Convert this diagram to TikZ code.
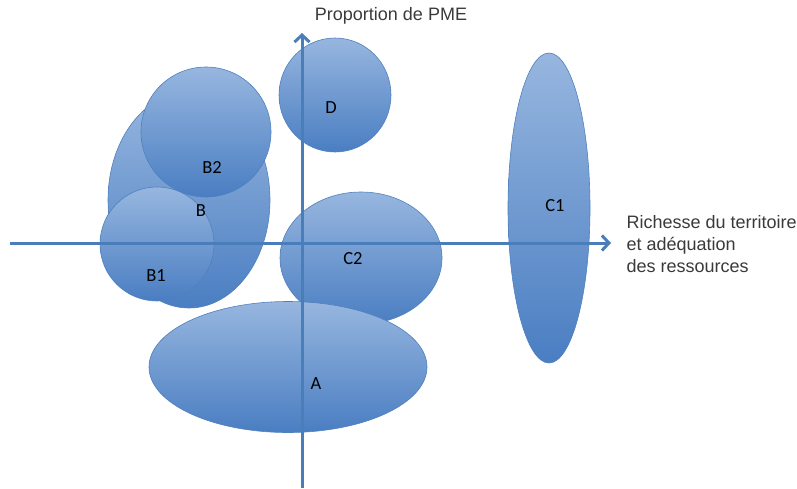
\documentclass[tikz,border=0pt]{standalone}
\usepackage{fontspec}
\setmainfont{Liberation Sans}
\newfontfamily\labelfont{Carlito}
\usetikzlibrary{shapes.geometric, arrows.meta}
\definecolor{axisblue}{HTML}{4A7EBB}
\definecolor{edgeblue}{HTML}{4F81BD}
\definecolor{topblue}{HTML}{97B6DF}
\definecolor{botblue}{HTML}{4A7EC2}
\definecolor{textgray}{HTML}{3A3A3A}
\tikzset{
  blob/.style={ellipse, draw=edgeblue, line width=0.6pt, top color=topblue, bottom color=botblue, inner sep=0pt},
  tag/.style={font=\labelfont\fontsize{18.5}{21}\selectfont, text=black},
  axis/.style={draw=axisblue, line width=3pt, -{Straight Barb[length=7pt, width=15pt]}},
  axistext/.style={font=\fontsize{18}{21}\selectfont, text=textgray}
}

\begin{document}
\begin{tikzpicture}[x=1pt, y=-1pt]
\useasboundingbox (0,0) rectangle (797,488);
% zones
\node[blob, minimum width=162pt, minimum height=216pt] (B) at (189,200) {};
\node[blob, minimum width=130pt, minimum height=130pt] (B2) at (206,132) {};
\node[blob, minimum width=114pt, minimum height=114pt] (B1) at (157,244) {};
\node[blob, minimum width=112pt, minimum height=114pt] (D) at (335,95) {};
\node[blob, minimum width=162pt, minimum height=132pt] (C2) at (361,258) {};
\node[blob, minimum width=278pt, minimum height=131pt] (A) at (288,367) {};
\node[blob, minimum width=82pt, minimum height=310pt] (C1) at (549,208) {};
% axes
\coordinate (xstart) at (10,243);
\coordinate (xend) at (611,243);
\coordinate (ystart) at (302,488);
\coordinate (yend) at (302,33);
\draw[axis] (xstart) -- (xend);
\draw[axis] (ystart) -- (yend);
\node[axistext] (ylabel) at (391,16) {Proportion de PME};
\node[axistext, anchor=west, align=left, font=\fontsize{18}{22}\selectfont] (xlabel) at (623,244) {Richesse du territoire\\et adéquation\\des ressources};
% labels
\node[tag] (lB) at (201,211) {B};
\node[tag] (lB2) at (212,167) {B2};
\node[tag] (lB1) at (156,276) {B1};
\node[tag] (lD) at (331,108) {D};
\node[tag] (lC2) at (353,259) {C2};
\node[tag] (lC1) at (555,206) {C1};
\node[tag] (lA) at (316,384) {A};
\end{tikzpicture}
\end{document}
